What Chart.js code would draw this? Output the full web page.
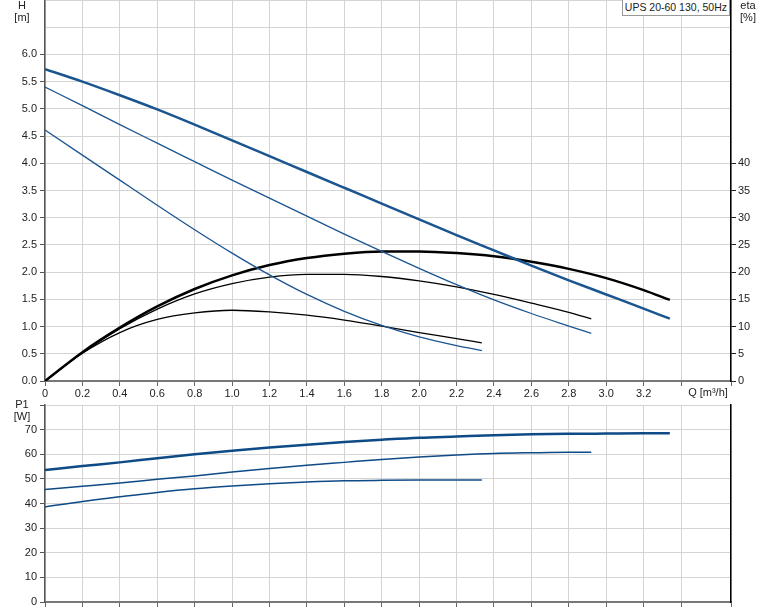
<!DOCTYPE html>
<html>
<head>
<meta charset="utf-8">
<script src="https://cdn.jsdelivr.net/npm/chart.js@4.4.0/dist/chart.umd.min.js"></script>
<style>
    body { margin: 0; background: #fff; width: 774px; height: 611px; overflow: hidden; position: relative; font-family: "Liberation Sans", Arial, sans-serif; }
    #topChart { position: absolute; left: 0; top: 0; }
    #botChart { position: absolute; left: 0; top: 395px; }
    .lbl { position: absolute; width: 40px; font-size: 11px; line-height: 12px; color: #222; text-align: center; }
    #legend { position: absolute; right: 44px; top: 0; height: 15px; padding: 0 2px; white-space: nowrap; border: 1px solid #999; border-top: none; background: #fff; font-size: 10.5px; line-height: 15px; color: #222; }
</style>
</head>
<body>
<canvas id="topChart" width="774" height="400"></canvas>
<canvas id="botChart" width="774" height="216"></canvas>
<div class="lbl" style="left:2px;top:-1px">H</div>
<div class="lbl" style="left:2px;top:11px">[m]</div>
<div class="lbl" style="left:728px;top:-1px">eta</div>
<div class="lbl" style="left:728px;top:11px">[%]</div>
<div class="lbl" style="left:2px;top:398px">P1</div>
<div class="lbl" style="left:2px;top:410px">[W]</div>
<div class="lbl" style="left:678px;top:386px;width:60px">Q [m³/h]</div>
<div id="legend">UPS 20-60 130, 50Hz</div>
<script>
// speed 3
const q3 = [0, 0.2, 0.4, 0.6, 0.8, 1.0, 1.2, 1.4, 1.6, 1.8, 2.0, 2.2, 2.4, 2.6, 2.8, 3.0, 3.2, 3.34];
const h3 = [5.73, 5.50, 5.25, 4.99, 4.71, 4.42, 4.13, 3.84, 3.55, 3.26, 2.97, 2.68, 2.40, 2.12, 1.85, 1.59, 1.33, 1.145];
const eta3 = [0, 5.3, 9.8, 13.7, 16.9, 19.4, 21.3, 22.6, 23.4, 23.8, 23.8, 23.5, 22.9, 21.9, 20.6, 18.9, 16.7, 14.9];
const p3 = [53.6, 55.2, 56.7, 58.4, 60.0, 61.4, 62.7, 63.9, 65.0, 65.9, 66.7, 67.2, 67.7, 68.1, 68.3, 68.4, 68.5, 68.5];

// speed 2
const q2 = [0, 0.2, 0.4, 0.6, 0.8, 1.0, 1.2, 1.4, 1.6, 1.8, 2.0, 2.2, 2.4, 2.6, 2.8, 2.92];
const h2 = [5.40, 5.06, 4.71, 4.37, 4.03, 3.69, 3.36, 3.03, 2.70, 2.38, 2.07, 1.77, 1.49, 1.24, 1.01, 0.875];
const eta2 = [0, 5.2, 9.6, 13.2, 16.0, 17.9, 19.1, 19.6, 19.6, 19.2, 18.4, 17.3, 15.9, 14.3, 12.6, 11.4];
const p2 = [45.7, 47.0, 48.3, 49.8, 51.2, 52.8, 54.2, 55.5, 56.7, 57.9, 58.9, 59.7, 60.3, 60.6, 60.8, 60.8];

// speed 1
const q1 = [0, 0.2, 0.4, 0.6, 0.8, 1.0, 1.2, 1.4, 1.6, 1.8, 2.0, 2.2, 2.335];
const h1 = [4.61, 4.15, 3.69, 3.23, 2.78, 2.35, 1.95, 1.59, 1.28, 1.02, 0.81, 0.65, 0.56];
const eta1 = [0, 5.1, 8.9, 11.3, 12.5, 13.0, 12.7, 12.1, 11.2, 10.1, 8.9, 7.8, 7.0];
const p1 = [38.6, 40.8, 42.7, 44.5, 46.0, 47.1, 48.0, 48.7, 49.2, 49.4, 49.5, 49.5, 49.5];

const qMax = 3.667;
const hLabelMax = 6;
const etaLabelMax = 40;
const pLabelMax = 70;

const BLUE = '#1b5590';
const BLUE_P = '#0e4a86';
const GRID = '#d4d4d4';
const TEXT = '#222';

Chart.defaults.font.family = '"Liberation Sans", Arial, sans-serif';
Chart.defaults.font.size = 11;
Chart.defaults.color = TEXT;

function pts(q, v) {
    return q.map((x, i) => ({ x: x, y: v[i] }));
}

function line(q, v, color, width, axis) {
    return {
        data: pts(q, v),
        borderColor: color,
        borderWidth: width,
        pointRadius: 0,
        fill: false,
        cubicInterpolationMode: 'monotone',
        yAxisID: axis
    };
}

// keep the plot area exactly where the reference has it
function pin(size) {
    return s => {
        if (s.isHorizontal()) s.height = size; else s.width = size;
        s.paddingTop = 0;
        s.paddingBottom = 0;
        s.paddingLeft = 0;
        s.paddingRight = 0;
    };
}

function xAxis(height, showLabels) {
    return {
        type: 'linear',
        min: 0,
        max: qMax,
        afterFit: pin(height),
        ticks: {
            stepSize: 0.2,
            autoSkip: false,
            maxRotation: 0,
            padding: 1,
            callback: v => {
                if (!showLabels || v > 3.3) return '';
                return v === 0 ? '0' : v.toFixed(1);
            }
        },
        grid: { color: GRID, tickLength: 5, tickColor: '#666' },
        border: { color: '#777', width: 2 }
    };
}

const topChart = new Chart(document.getElementById('topChart'), {
    type: 'line',
    data: {
        datasets: [
            line(q1, h1, BLUE, 1.3, 'yH'),
            line(q2, h2, BLUE, 1.3, 'yH'),
            line(q3, h3, BLUE, 2.5, 'yH'),
            line(q1, eta1, '#000', 1.3, 'yEta'),
            line(q2, eta2, '#000', 1.3, 'yEta'),
            line(q3, eta3, '#000', 2.5, 'yEta')
        ]
    },
    options: {
        responsive: false,
        animation: false,
        layout: { padding: 0 },
        plugins: { legend: { display: false }, tooltip: { enabled: false } },
        scales: {
            x: xAxis(19, true),
            yH: {
                position: 'left',
                min: 0,
                max: 7,
                afterFit: pin(45),
                ticks: {
                    stepSize: 0.5,
                    padding: 3,
                    callback: v => v <= hLabelMax ? v.toFixed(1) : ''
                },
                grid: {
                    color: GRID,
                    tickLength: 5,
                    tickColor: c => c.tick && c.tick.value > hLabelMax ? 'rgba(0,0,0,0)' : '#555'
                },
                border: { color: '#555', width: 1.5 }
            },
            yEta: {
                position: 'right',
                min: 0,
                max: 70,
                afterFit: pin(43),
                ticks: {
                    stepSize: 5,
                    padding: 2,
                    callback: v => v <= etaLabelMax ? String(v) : ''
                },
                grid: {
                    drawOnChartArea: false,
                    tickLength: 5,
                    tickColor: c => c.tick && c.tick.value > etaLabelMax ? 'rgba(0,0,0,0)' : '#222'
                },
                border: { color: '#000', width: 1.5 }
            }
        }
    }
});

const botChart = new Chart(document.getElementById('botChart'), {
    type: 'line',
    data: {
        datasets: [
            line(q1, p1, BLUE_P, 1.5, 'yP'),
            line(q2, p2, BLUE_P, 1.5, 'yP'),
            line(q3, p3, BLUE_P, 2.5, 'yP')
        ]
    },
    options: {
        responsive: false,
        animation: false,
        layout: { padding: { top: 10, right: 0, left: 0, bottom: 0 } },
        plugins: { legend: { display: false }, tooltip: { enabled: false } },
        scales: {
            x: xAxis(9, false),
            yP: {
                position: 'left',
                min: 0,
                max: 80,
                afterFit: pin(45),
                ticks: {
                    stepSize: 10,
                    padding: 3,
                    callback: v => v <= pLabelMax ? String(v) : ''
                },
                grid: { color: GRID, tickLength: 5, tickColor: '#555' },
                border: { color: '#555', width: 1.5 }
            },
            yRight: {
                position: 'right',
                min: 0,
                max: 80,
                afterFit: pin(43),
                ticks: { display: false },
                grid: { display: false },
                border: { color: '#000', width: 1.5 }
            }
        }
    }
});
</script>
</body>
</html>
